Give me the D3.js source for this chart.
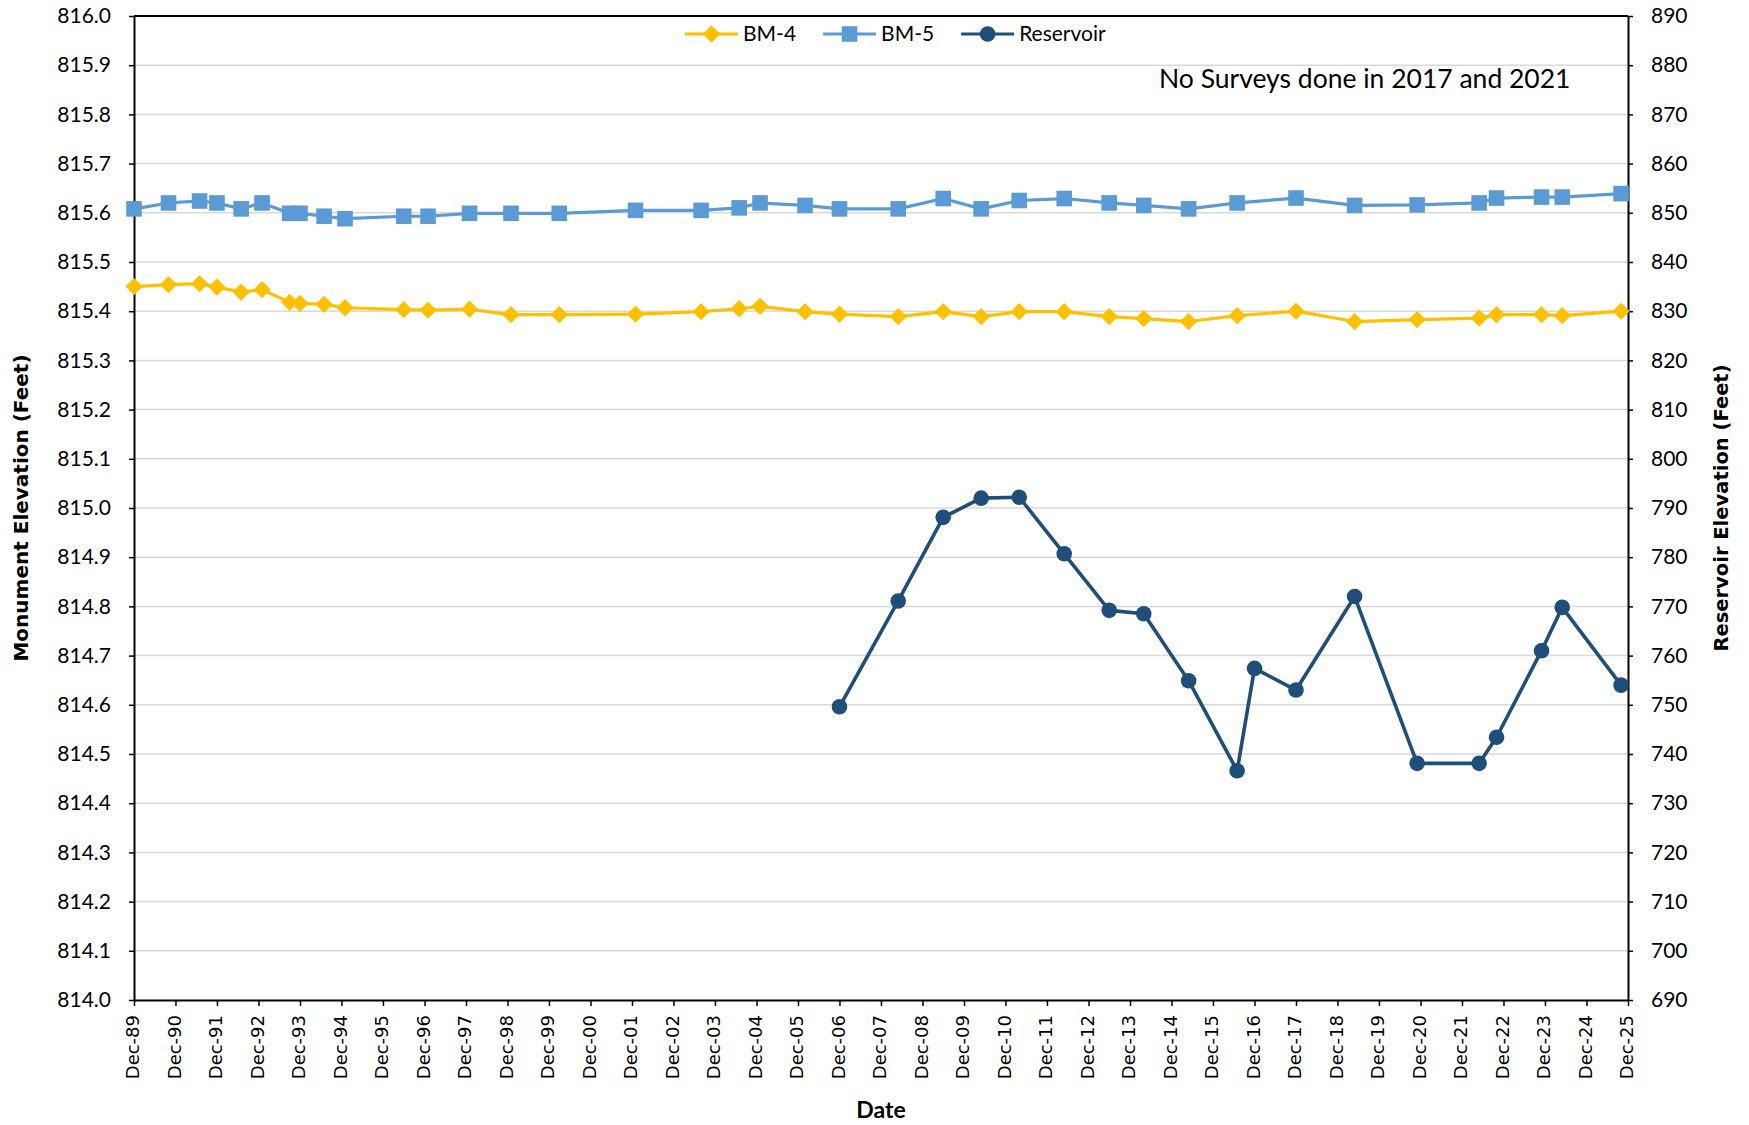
<!DOCTYPE html>
<html>
<head>
<meta charset="utf-8">
<script src="https://cdn.jsdelivr.net/npm/d3@7"></script>
<style>
  html, body { margin: 0; padding: 0; background: #fff; }
  svg { display: block; }
</style>
</head>
<body>
<div id="chart"></div>
<script>
// Survey dates (year-month) for the two monuments
const surveyDates = [
  "1989-12", "1990-10", "1991-07", "1991-12", "1992-07", "1993-01", "1993-09", "1993-12",
  "1994-07", "1995-01", "1996-06", "1997-01", "1998-01", "1999-01", "2000-03", "2002-01",
  "2003-08", "2004-07", "2005-01", "2006-02", "2006-12", "2008-05", "2009-06", "2010-05",
  "2011-04", "2012-05", "2013-06", "2014-04", "2015-05", "2016-07", "2017-12", "2019-05",
  "2020-11", "2022-05", "2022-10", "2023-11", "2024-05", "2025-10"
]
const bm4 = [
  815.450, 815.454, 815.456, 815.449, 815.439, 815.444, 815.418, 815.416,
  815.414, 815.407, 815.403, 815.402, 815.404, 815.393, 815.393, 815.394,
  815.399, 815.405, 815.410, 815.399, 815.394, 815.389, 815.399, 815.389,
  815.399, 815.399, 815.389, 815.385, 815.379, 815.391, 815.400, 815.379,
  815.383, 815.386, 815.393, 815.393, 815.391, 815.400
]
const bm5 = [
  815.608, 815.620, 815.624, 815.620, 815.608, 815.620, 815.599, 815.599,
  815.593, 815.588, 815.593, 815.593, 815.599, 815.599, 815.599, 815.605,
  815.605, 815.610, 815.620, 815.615, 815.608, 815.608, 815.629, 815.608,
  815.625, 815.629, 815.620, 815.615, 815.608, 815.620, 815.630, 815.615,
  815.616, 815.620, 815.630, 815.632, 815.632, 815.639
]
// Reservoir readings (right axis)
const reservoirDates = [
  "2006-12", "2008-05", "2009-06", "2010-05", "2011-04", "2012-05", "2013-06", "2014-04",
  "2015-05", "2016-07", "2016-12", "2017-12", "2019-05", "2020-11", "2022-05", "2022-10",
  "2023-11", "2024-05", "2025-10"
]
const reservoir = [
  749.6, 771.1, 788.1, 792.0, 792.2, 780.7, 769.2, 768.5,
  754.9, 736.6, 757.4, 753.0, 772.0, 738.1, 738.1, 743.4,
  761.0, 769.8, 754.0
]
const tickYears = d3.range(1989, 2026)
const leftDomain = [814.0, 816.0]
const rightDomain = [690, 890]
const annotation = "No Surveys done in 2017 and 2021"

const COLORS = { bm4: "#FFC000", bm5: "#5B9BD5", res: "#1F4E79" }
const FONT = "Lato, 'Open Sans', sans-serif"
const TICK_FONT = "'DejaVu Sans', sans-serif"

const width = 1749
const height = 1125
const margin = { top: 16, right: 121, bottom: 125, left: 134 }
const innerW = width - margin.left - margin.right
const innerH = height - margin.top - margin.bottom

const parse = d3.timeParse("%Y-%m")

const svg = d3.select("#chart")
  .append("svg")
  .attr("width", width)
  .attr("height", height)

const g = svg.append("g")
  .attr("transform", `translate(${margin.left},${margin.top})`)

const x = d3.scaleTime()
  .domain([new Date(1989, 11, 1), new Date(2025, 11, 1)])
  .range([0, innerW])
const yL = d3.scaleLinear().domain(leftDomain).range([innerH, 0])
const yR = d3.scaleLinear().domain(rightDomain).range([innerH, 0])

const leftTicks = d3.range(0, 21).map(i => leftDomain[0] + i * 0.1)

// Gridlines
g.append("g")
  .selectAll("line")
  .data(leftTicks.slice(1, -1))
  .enter()
  .append("line")
  .attr("x1", 0).attr("x2", innerW)
  .attr("y1", d => yL(d)).attr("y2", d => yL(d))
  .attr("stroke", "#D9D9D9")
  .attr("stroke-width", 1.5)

// Top border of plot area
g.append("line")
  .attr("x1", 0).attr("x2", innerW)
  .attr("y1", 0).attr("y2", 0)
  .attr("stroke", "#000").attr("stroke-width", 2)

// Axes
const styleAxis = sel => {
  sel.select(".domain").attr("stroke", "#000").attr("stroke-width", 2)
  sel.selectAll(".tick line").attr("stroke", "#000").attr("stroke-width", 1.5)
}

g.append("g")
  .call(d3.axisLeft(yL).tickValues(leftTicks).tickFormat(d3.format(".1f")).tickSize(5).tickSizeOuter(0).tickPadding(18))
  .call(styleAxis)
  .selectAll("text")
  .attr("font-family", FONT).attr("font-size", "21px").attr("fill", "#000")

g.append("g")
  .attr("transform", `translate(${innerW},0)`)
  .call(d3.axisRight(yR).ticks(20).tickSize(5).tickSizeOuter(0).tickPadding(18))
  .call(styleAxis)
  .selectAll("text")
  .attr("font-family", FONT).attr("font-size", "21px").attr("fill", "#000")

const fmtYear = d3.timeFormat("%y")
g.append("g")
  .attr("transform", `translate(0,${innerH})`)
  .call(d3.axisBottom(x)
    .tickValues(tickYears.map(yr => new Date(yr, 11, 1)))
    .tickFormat(d => "Dec-" + fmtYear(d))
    .tickSize(6).tickSizeOuter(0))
  .call(styleAxis)
  .selectAll("text")
  .attr("font-family", TICK_FONT).attr("font-size", "18px").attr("fill", "#000")
  .attr("transform", "rotate(-90)")
  .attr("text-anchor", "end")
  .attr("dx", "-15px")
  .attr("dy", "-0.1em")
  .attr("y", 0)
  .attr("x", 0)
  .style("dominant-baseline", "central")

// Axis titles
svg.append("text")
  .attr("transform", `translate(28,${margin.top + innerH / 2}) rotate(-90)`)
  .attr("text-anchor", "middle")
  .attr("font-family", TICK_FONT).attr("font-weight", "bold").attr("font-size", "20px")
  .text("Monument Elevation (Feet)")

svg.append("text")
  .attr("transform", `translate(1728,${margin.top + innerH / 2}) rotate(-90)`)
  .attr("text-anchor", "middle")
  .attr("font-family", TICK_FONT).attr("font-weight", "bold").attr("font-size", "19.5px")
  .text("Reservoir Elevation (Feet)")

svg.append("text")
  .attr("x", margin.left + innerW / 2)
  .attr("y", 1118)
  .attr("text-anchor", "middle")
  .attr("font-family", FONT).attr("font-weight", "bold").attr("font-size", "23px")
  .text("Date")

// Series
const bm4Data = surveyDates.map((d, i) => ({ date: parse(d), v: bm4[i] }))
const bm5Data = surveyDates.map((d, i) => ({ date: parse(d), v: bm5[i] }))
const resData = reservoirDates.map((d, i) => ({ date: parse(d), v: reservoir[i] }))

const diamond = d3.symbol().type(d3.symbolDiamond2).size(190)
const square = d3.symbol().type(d3.symbolSquare2).size(310)

function drawSeries(data, yScale, color, marker, lw) {
  const line = d3.line().x(d => x(d.date)).y(d => yScale(d.v))
  g.append("path")
    .datum(data)
    .attr("d", line)
    .attr("fill", "none")
    .attr("stroke", color)
    .attr("stroke-width", lw)
    .attr("stroke-linejoin", "round")
  const pts = g.append("g")
  if (marker === "circle") {
    pts.selectAll("circle").data(data).enter().append("circle")
      .attr("cx", d => x(d.date)).attr("cy", d => yScale(d.v))
      .attr("r", 7.8).attr("fill", color)
  } else {
    pts.selectAll("path").data(data).enter().append("path")
      .attr("d", marker === "diamond" ? diamond : square)
      .attr("transform", d => `translate(${x(d.date)},${yScale(d.v)})`)
      .attr("fill", color)
  }
}

drawSeries(bm4Data, yL, COLORS.bm4, "diamond", 3.2)
drawSeries(bm5Data, yL, COLORS.bm5, "square", 3.2)
drawSeries(resData, yR, COLORS.res, "circle", 3.6)

// Annotation
svg.append("text")
  .attr("x", 1159)
  .attr("y", 88)
  .attr("font-family", FONT).attr("font-size", "26.5px")
  .text(annotation)

// Legend
const legendItems = [
  { name: "BM-4", color: COLORS.bm4, marker: "diamond" },
  { name: "BM-5", color: COLORS.bm5, marker: "square" },
  { name: "Reservoir", color: COLORS.res, marker: "circle" }
]
const legend = svg.append("g").attr("transform", "translate(0,34)")
let lx = 685
legendItems.forEach(item => {
  const it = legend.append("g").attr("transform", `translate(${lx},0)`)
  it.append("line").attr("x1", 0).attr("x2", 53).attr("y1", 0).attr("y2", 0)
    .attr("stroke", item.color).attr("stroke-width", 3.2)
  if (item.marker === "circle") {
    it.append("circle").attr("cx", 26.5).attr("cy", 0).attr("r", 7.8).attr("fill", item.color)
  } else {
    it.append("path").attr("d", item.marker === "diamond" ? diamond : square)
      .attr("transform", "translate(26.5,0)").attr("fill", item.color)
  }
  const t = it.append("text").attr("x", 58).attr("y", 0).attr("dy", "0.35em")
    .attr("font-family", FONT).attr("font-size", "21px")
    .text(item.name)
  lx += 58 + t.node().getComputedTextLength() + 27
})
</script>
</body>
</html>
